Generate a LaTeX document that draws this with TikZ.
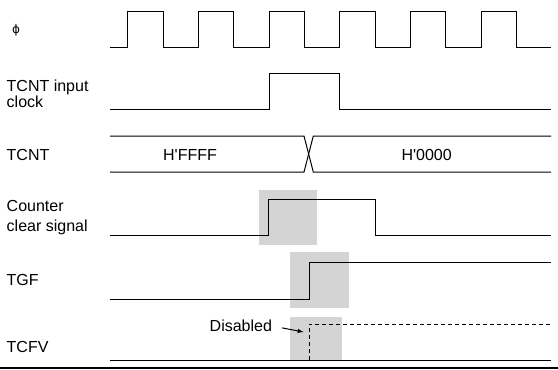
\documentclass[tikz,border=0pt]{standalone}
\usepackage{fontspec}
\setmainfont{Liberation Sans}
\newfontfamily\greekfont{DejaVu Sans}
\begin{document}
\begin{tikzpicture}[>=latex, x=1pt, y=-1pt, font=\fontsize{16}{16}\selectfont,
  lbl/.style={anchor=base west, inner sep=0pt, align=left},
  val/.style={anchor=base, inner sep=0pt},
  wave/.style={line width=1pt},
  shade/.style={fill=black!17}]
\useasboundingbox (0,0) rectangle (558,370);

% gray windows
\fill[shade] (259.3,190) rectangle (316.7,245);
\fill[shade] (290,252.3) rectangle (349,307.7);
\fill[shade] (290,317.3) rectangle (341.7,360);

% signal names
\node[anchor=center, inner sep=0pt, font=\greekfont\fontsize{12}{12}\selectfont] (phi) at (16,30.5) {ϕ};
\node[lbl, font=\fontsize{16}{15.8}\selectfont] (clk) at (6.5,107) {TCNT input\\clock};
\node[lbl] (tcnt) at (6.5,160.8) {TCNT};
\node[lbl, font=\fontsize{16}{19.3}\selectfont] (ccs) at (6.5,231) {Counter\\clear signal};
\node[lbl] (tgf) at (6.5,285) {TGF};
\node[lbl] (tcfv) at (6.5,352) {TCFV};

% phi
\draw[wave] (110,47.7)
  \foreach \r in {127.7,198.4,269.1,339.8,410.5,481.2}
  { -- (\r,47.7) -- (\r,11.7) -- ++(35.3,0) -- ++(0,36) } -- (551,47.7);

% TCNT input clock
\draw[wave] (110,109)--(269.1,109)--(269.1,73)--(339.8,73)--(339.8,109)--(551,109);

% TCNT value
\draw[wave] (110,136)--(304,136)--(313.3,172)--(551,172);
\draw[wave] (110,172)--(304,172)--(313.3,136)--(551,136);
\node[val] (ffff) at (190,160.7) {H\textquotesingle FFFF};
\node[val] (zero) at (426.7,160.7) {H\textquotesingle 0000};

% counter clear signal
\draw[wave] (110,235.7)--(268.5,235.7)--(268.5,199)--(375.1,199)--(375.1,235.7)--(551,235.7);

% TGF
\draw[wave] (110,299.3)--(309,299.3)--(309,262.7)--(551,262.7);

% TCFV
\draw[wave] (110,360)--(551,360);
\draw[wave, dash pattern=on 4pt off 3pt] (309,360)--(309,324.3)--(551,324.3);
\node[lbl] (dis) at (209.5,331.7) {Disabled};
\coordinate (dtip) at (303.5,332);
\draw[->, wave, shorten <=10pt] (dis.east) -- (dtip);

\draw[line width=1.6pt] (0,367.7) -- (558,367.7);
\end{tikzpicture}
\end{document}
